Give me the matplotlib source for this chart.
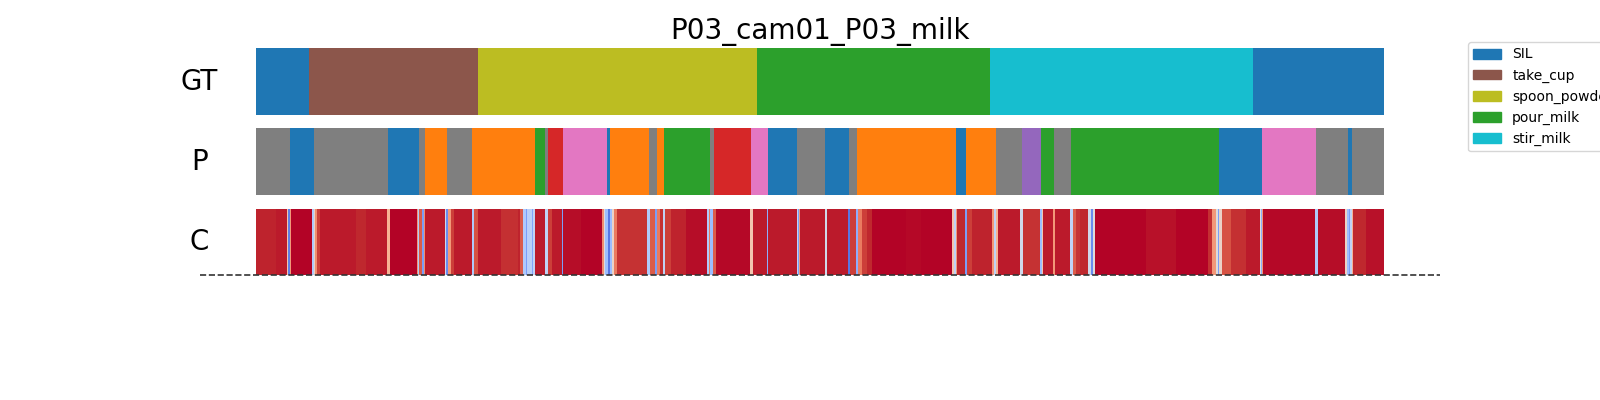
"""Segmentation timeline: GT / prediction / confidence -> out.png"""

from __future__ import annotations

import matplotlib
import matplotlib.pyplot as plt
import numpy as np
from matplotlib.colors import ListedColormap
from matplotlib.lines import Line2D
from matplotlib.patches import Patch

matplotlib.use("Agg")

# ── data ──────────────────────────────────────────
TITLE = "P03_cam01_P03_milk"
N_FRAMES = 1128

# class id -> tab10 colour index
CLASS_NAMES = {0: "SIL", 5: "take_cup", 8: "spoon_powder", 2: "pour_milk", 9: "stir_milk"}
LEGEND_IDS = [0, 5, 8, 2, 9]

# ground truth segments (start frame, class id)
GT_STARTS = [0, 53, 222, 501, 734, 997]
GT_LABELS = [0, 5, 8, 2, 9, 0]

# predicted segments (start frame, class id)
P_STARTS = [0, 34, 58, 132, 163, 169, 191, 216, 279, 289, 292, 307, 351, 354,
            393, 401, 408, 454, 458, 495, 512, 541, 569, 593, 601, 700, 710,
            740, 766, 785, 798, 815, 963, 1006, 1060, 1092, 1096]
P_LABELS = [7, 0, 7, 0, 7, 1, 7, 1, 2, 7, 3, 6, 0, 1,
            7, 1, 2, 7, 3, 6, 0, 7, 0, 7, 1, 0, 1,
            7, 4, 2, 7, 2, 0, 6, 7, 0, 7]

# confidence runs (start frame, value)
C_STARTS = [0, 20, 31, 32, 34, 35, 56, 58, 59, 61, 64, 100, 110, 131, 134, 161,
            162, 163, 166, 168, 169, 189, 190, 192, 195, 198, 216, 218, 222, 245,
            262, 264, 267, 270, 271, 276, 277, 279, 289, 292, 296, 306, 307, 325,
            346, 348, 349, 352, 354, 356, 358, 361, 391, 394, 399, 401, 404, 407,
            409, 415, 430, 451, 453, 454, 457, 460, 494, 497, 511, 512, 541, 542,
            543, 544, 569, 571, 592, 594, 600, 602, 606, 611, 616, 650, 665, 696,
            698, 700, 701, 709, 711, 716, 736, 738, 740, 742, 764, 767, 784, 786,
            787, 797, 799, 814, 817, 820, 824, 832, 835, 837, 839, 890, 920, 952,
            956, 960, 962, 963, 966, 975, 990, 1004, 1005, 1006, 1007, 1059, 1062,
            1089, 1091, 1093, 1094, 1096, 1097, 1110]
C_VALUES = [0.97, 0.98, 0.62, 0.12, 0.75, 1.0, 0.35, 0.56, 0.78, 0.93, 0.98, 0.965, 0.98, 0.68, 1.0, 0.75,
            0.35, 0.88, 0.2, 0.78, 0.98, 0.45, 0.15, 0.75, 0.93, 0.98, 0.35, 0.9, 0.98, 0.955,
            0.97, 0.88, 0.35, 0.2, 0.38, 0.22, 0.4, 0.98, 0.4, 0.93, 0.98, 0.2, 0.99, 1.0,
            0.78, 0.5, 0.3, 0.1, 0.3, 0.56, 0.82, 0.95, 0.35, 0.88, 0.2, 0.82, 0.95, 0.4,
            0.93, 0.97, 0.99, 0.35, 0.82, 0.3, 0.88, 0.995, 0.62, 0.98, 0.25, 0.98, 0.4, 0.2,
            0.75, 0.98, 0.45, 0.98, 0.1, 0.93, 0.25, 0.82, 0.93, 0.965, 1.0, 0.995, 1.0, 0.62,
            0.4, 0.75, 0.965, 0.2, 0.93, 0.97, 0.75, 0.4, 0.68, 0.98, 0.45, 0.95, 0.3, 0.62,
            0.98, 0.75, 0.98, 0.4, 0.88, 0.95, 0.965, 0.45, 0.15, 0.5, 1.0, 0.985, 1.0, 0.955,
            0.75, 0.5, 0.2, 0.56, 0.9, 0.955, 0.98, 0.5, 0.25, 0.75, 0.995, 0.35, 0.99,
            0.56, 0.3, 0.2, 0.4, 0.68, 0.965, 0.985]

TAB10 = ListedColormap(plt.get_cmap("tab10").colors)


def _runs(starts, values) -> np.ndarray:
    ends = starts[1:] + [N_FRAMES]
    lengths = [e - s for s, e in zip(starts, ends)]
    return np.repeat(np.array(values, dtype=float), lengths)


def _row(ax, arr, label, **kw) -> None:
    ax.imshow(arr[None, :], aspect="auto", extent=[0, N_FRAMES, 0, 1],
              interpolation="nearest", **kw)
    ax.set_xlim(0, N_FRAMES)
    ax.set_ylim(0, 1)
    ax.axis("off")
    ax.text(-0.05 * N_FRAMES, 0.5, label, ha="center", va="center",
            fontsize=20, clip_on=False)


def main() -> None:
    fig = plt.figure(figsize=(16, 4), dpi=100)
    left, width = 0.16, 0.705
    ax_gt = fig.add_axes([left, 0.7125, width, 0.1675])
    ax_p = fig.add_axes([left, 0.5125, width, 0.1675])
    ax_c = fig.add_axes([left, 0.3125, width, 0.165])

    cls_kw = dict(cmap=TAB10, vmin=-0.5, vmax=9.5)
    _row(ax_gt, _runs(GT_STARTS, GT_LABELS), "GT", **cls_kw)
    _row(ax_p, _runs(P_STARTS, P_LABELS), "P", **cls_kw)
    _row(ax_c, _runs(C_STARTS, C_VALUES), "C", cmap="coolwarm", vmin=0, vmax=1)

    ax_c.add_line(Line2D([-0.05 * N_FRAMES, 1.05 * N_FRAMES], [0, 0],
                         color="#333333", linestyle="--", linewidth=1.2, clip_on=False))

    fig.text(0.5125, 0.922, TITLE, ha="center", va="center", fontsize=20)

    # legend runs past the right edge, as in the original figure
    handles = [Patch(color=TAB10(i), label=CLASS_NAMES[i]) for i in LEGEND_IDS]
    fig.legend(handles=handles, loc="upper left", bbox_to_anchor=(0.913, 0.9125),
               fontsize=10)

    fig.savefig("out.png", dpi=100)
    plt.close(fig)


if __name__ == "__main__":
    main()
